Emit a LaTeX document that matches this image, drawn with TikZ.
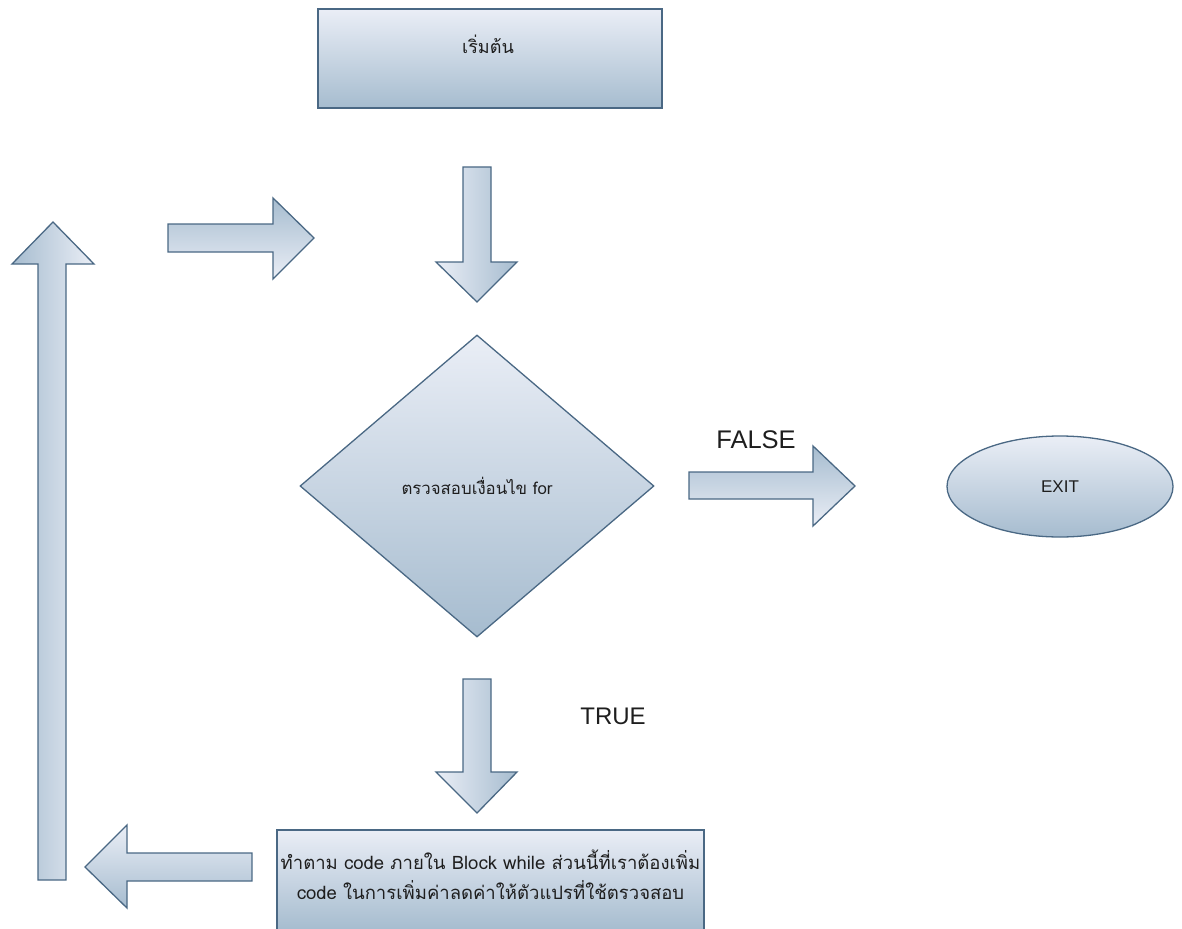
\documentclass[tikz,border=0pt]{standalone}
\usepackage{fontspec}
\setmainfont{Liberation Sans}
\newfontfamily\thai[Script=Thai]{Loma}
\usetikzlibrary{shapes.geometric}
\definecolor{lightb}{RGB}{234,238,246}
\definecolor{darkb}{RGB}{166,188,207}
\definecolor{edgeb}{RGB}{74,104,132}
\definecolor{txt}{RGB}{30,30,30}
\begin{document}
\begin{tikzpicture}[x=1pt,y=-1pt,
  fillv/.style={top color=lightb,bottom color=darkb,draw=edgeb,line width=1.3pt},
  box/.style={fillv,rectangle,inner sep=0pt,text=txt},
  arrowv/.style={draw=edgeb,line width=1.3pt,line join=miter},
  downarr/.style={arrowv,left color=lightb,right color=darkb},
  uparr/.style={arrowv,left color=darkb,right color=lightb},
  rightarr/.style={arrowv,top color=darkb,bottom color=lightb},
  leftarr/.style={arrowv,top color=lightb,bottom color=darkb},
  lbl/.style={text=txt,font=\fontsize{24}{28}\selectfont}]
\useasboundingbox (0,0) rectangle (1182,928);
% start box
\node[box,minimum width=344pt,minimum height=99pt] (start) at (490,58.5) {};
\node[text=txt,font=\thai\fontsize{18}{21}\selectfont] (starttxt) at (488,44) {เริ่มต้น};
% decision
\node[fillv,diamond,aspect=1.17,minimum width=354pt,minimum height=302pt,inner sep=0pt,text=txt,font=\thai\fontsize{16.8}{20}\selectfont] (cond) at (477,486) {ตรวจสอบเงื่อนไข for};
% exit
\node[fillv,ellipse,minimum width=226pt,minimum height=101pt,inner sep=0pt,text=txt,font=\fontsize{17}{20}\selectfont] (exit) at (1060,486.5) {EXIT};
% body box
\node[box,minimum width=427pt,minimum height=100pt] (body) at (490.5,880) {};
\node[text=txt,align=center,inner sep=0pt,font=\thai\fontsize{18.5}{30}\selectfont] (bodytxt) at (490.5,875) {ทำตาม code ภายใน Block while ส่วนนี้ที่เราต้องเพิ่ม\\code ในการเพิ่มค่าลดค่าให้ตัวแปรที่ใช้ตรวจสอบ};
% block arrows
\path[downarr] (463,167) -- (491,167) -- (491,262) -- (517,262) -- (477,302) -- (436,262) -- (463,262) -- cycle;
\path[downarr] (463,679) -- (491,679) -- (491,772) -- (517,772) -- (477,813) -- (436,772) -- (463,772) -- cycle;
\path[rightarr] (168,224) -- (273,224) -- (273,198) -- (314,238) -- (273,279) -- (273,252) -- (168,252) -- cycle;
\path[rightarr] (689,472) -- (813,472) -- (813,446) -- (855,486) -- (813,526) -- (813,499) -- (689,499) -- cycle;
\path[uparr] (38,880) -- (38,264) -- (12,264) -- (53,222) -- (94,264) -- (66,264) -- (66,880) -- cycle;
\path[leftarr] (252,853) -- (127,853) -- (127,825) -- (85,867) -- (127,908) -- (127,881) -- (252,881) -- cycle;
% labels
\node[lbl,font=\fontsize{25.5}{30}\selectfont] (false) at (756,440) {FALSE};
\node[lbl] (true) at (613,716) {TRUE};
\end{tikzpicture}
\end{document}
